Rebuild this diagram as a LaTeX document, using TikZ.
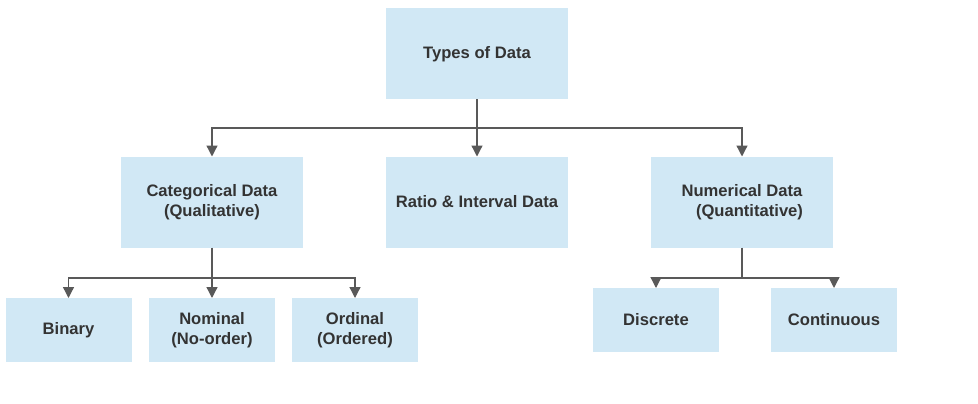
\documentclass[tikz,border=0pt]{standalone}
\usepackage{fontspec}
\setmainfont{Liberation Sans}
\usetikzlibrary{arrows.meta}
\definecolor{boxblue}{HTML}{D1E8F5}
\definecolor{linegray}{HTML}{595959}
\definecolor{textgray}{HTML}{333333}
\tikzset{
  databox/.style={fill=boxblue, draw=none, outer sep=0pt, align=center,
    text=textgray, font=\bfseries\fontsize{16.6}{20.5}\selectfont},
  bigbox/.style={databox, minimum width=182pt, minimum height=91pt},
  smallbox/.style={databox, minimum width=126pt, minimum height=64pt},
  arr/.style={draw=linegray, line width=1.3pt, -{Triangle[width=11pt,length=11pt]}},
  link/.style={draw=linegray, line width=1.3pt}
}
\begin{document}
\begin{tikzpicture}[x=1pt,y=-1pt]
	\useasboundingbox (0,0) rectangle (978,404);
	% boxes
	\node[bigbox] at (477,54) (types) {Types of Data};
	\node[bigbox] at (212,202) (cat) {Categorical Data\\(Qualitative)};
	\node[bigbox] at (477,202) (ratio) {Ratio \& Interval Data};
	\node[bigbox] at (742,202) (num) {Numerical Data\\\hspace*{15pt}(Quantitative)};
	\node[smallbox] at (68.5,330) (binary) {Binary};
	\node[smallbox] at (212,330) (nominal) {Nominal\\(No-order)};
	\node[smallbox] at (355,330) (ordinal) {Ordinal\\(Ordered)};
	\node[smallbox] at (656,320) (discrete) {Discrete};
	\node[smallbox] at (834,320) (continuous) {Continuous};
	% connectors
	\coordinate (j1) at (477,128);
	\coordinate (j2) at (212,278);
	\coordinate (j3) at (742,278);
	\draw[arr] (types) -- (ratio);
	\draw[arr] (j1) -| (cat);
	\draw[arr] (j1) -| (num);
	\draw[arr] (cat) -- (nominal);
	\draw[arr] (j2) -| (binary);
	\draw[arr] (j2) -| (ordinal);
	\draw[link] (num) -- (j3);
	\draw[arr] (j3) -| (discrete);
	\draw[arr] (j3) -| (continuous);
\end{tikzpicture}
\end{document}
